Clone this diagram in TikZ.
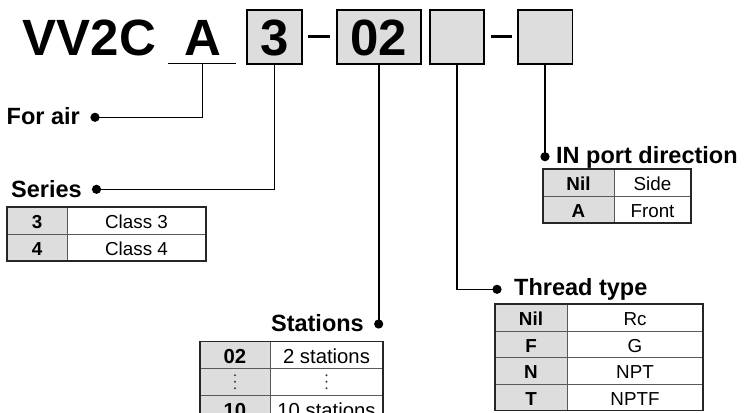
\documentclass[tikz,border=0pt]{standalone}
\usepackage{fontspec}
\setmainfont{Liberation Sans}
\definecolor{boxgray}{RGB}{221,221,221}
\newcommand\mytitlefont{\fontsize{51bp}{60bp}\selectfont\bfseries}
\newcommand\mylabelfont{\fontsize{23.5bp}{28bp}\selectfont\bfseries}
\newcommand\mytabfont{\fontsize{18.8bp}{22bp}\selectfont}
\newcommand\mytabfontb{\fontsize{18.8bp}{22bp}\selectfont\bfseries}
\newcommand\mystafont{\fontsize{20.3bp}{24bp}\selectfont}
\newcommand\mystafontb{\fontsize{20.3bp}{24bp}\selectfont\bfseries}
\begin{document}
\begin{tikzpicture}[x=1bp,y=-1bp,
  codebox/.style={draw=black,line width=1.6bp,fill=boxgray,inner sep=0pt,
    font=\mytitlefont,text height=36.5bp,text depth=0pt,minimum height=54bp},
  conn/.style={line width=1.6bp,black},
  lbl/.style={inner sep=0pt,font=\mylabelfont},
  tabouter/.style={line width=1.3bp,black!85},
  tabinner/.style={line width=1bp,black!65},
  tk/.style={inner sep=0pt,font=\mytabfontb,text height=13.4bp,text depth=0pt},
  tv/.style={inner sep=0pt,font=\mytabfont,text height=13.4bp,text depth=0pt},
  sk/.style={inner sep=0pt,font=\mystafontb,text height=14.5bp,text depth=0pt},
  sv/.style={inner sep=0pt,font=\mystafont,text height=14.5bp,text depth=0pt},
  dotmark/.style={black}
]
\useasboundingbox (0,0) rectangle (744,412);
\clip (0,0) rectangle (744,412);

% ---- title line ----
\node[inner sep=0pt,font=\mytitlefont,anchor=base west] (vv) at (22.5,55) {VV2C};
\node[inner sep=0pt,font=\mytitlefont,anchor=base] (tA) at (202.5,55) {A};
\coordinate (Aul) at (168,63.5);
\coordinate (Aur) at (236,63.5);
\coordinate (Amid) at (202.5,63.5);
\draw[conn] (Aul) -- (Aur);

\node[codebox,minimum width=55bp] (b3) at (274.5,37) {3};
\node[codebox,minimum width=84bp] (b02) at (378.7,37) {02};
\node[codebox,minimum width=54bp] (bc) at (457.2,37) {};
\node[codebox,minimum width=54.6bp] (bd) at (545,37) {};

\coordinate (d1a) at (308,36.5);
\coordinate (d1b) at (330,36.5);
\coordinate (d2a) at (491,36.5);
\coordinate (d2b) at (512,36.5);
\draw[line width=3.8bp] (d1a) -- (d1b);
\draw[line width=3.8bp] (d2a) -- (d2b);

% ---- connectors ----
\coordinate (airdot) at (95,117.3);
\coordinate (serdot) at (96.5,189.3);
\coordinate (stadot) at (378.7,324);
\coordinate (thrdot) at (497,289.3);
\coordinate (indot) at (545,156.7);

\draw[conn] (Amid) |- (airdot);
\draw[conn] (b3.south) |- (serdot);
\draw[conn] (b02.south) -- (stadot);
\draw[conn] (bc.south) |- (thrdot);
\draw[conn] (bd.south) -- (indot);
\foreach \d in {airdot,serdot,stadot,thrdot,indot} \fill[dotmark] (\d) circle[radius=4.6bp];

% ---- labels ----
\node[lbl,anchor=base east] (lair) at (80,124) {For air};
\node[lbl,anchor=base east] (lser) at (82,197) {Series};
\node[lbl,anchor=base east] (lsta) at (364,331.5) {Stations};
\node[lbl,anchor=base west] (lthr) at (514,295) {Thread type};
\node[lbl,anchor=base west] (lin) at (556,163) {IN port direction};

% ---- Series table ----
\fill[boxgray] (7,207) rectangle (67,261);
\draw[tabinner] (7,234) -- (206,234);
\draw[tabinner] (67,207) -- (67,261);
\draw[tabouter] (7,207) rectangle (206,261);
\node[tk] (s1k) at (37,222) {3};
\node[tv] (s1v) at (136.5,222) {Class 3};
\node[tk] (s2k) at (37,249) {4};
\node[tv] (s2v) at (136.5,249) {Class 4};

% ---- IN port table ----
\fill[boxgray] (543,169) rectangle (614,223);
\draw[tabinner] (543,196) -- (691,196);
\draw[tabinner] (614,169) -- (614,223);
\draw[tabouter] (543,169) rectangle (691,223);
\node[tk] (i1k) at (578.5,184) {Nil};
\node[tv] (i1v) at (652.5,184) {Side};
\node[tk] (i2k) at (578.5,211) {A};
\node[tv] (i2v) at (652.5,211) {Front};

% ---- Thread table ----
\fill[boxgray] (495,304) rectangle (567,410.5);
\foreach \yy in {331,357.5,384} \draw[tabinner] (495,\yy) -- (703,\yy);
\draw[tabinner] (567,304) -- (567,410.5);
\draw[tabouter] (495,304) rectangle (703,410.5);
\node[tk] (t1k) at (531,319) {Nil};
\node[tv] (t1v) at (635,319) {Rc};
\node[tk] (t2k) at (531,345.5) {F};
\node[tv] (t2v) at (635,345.5) {G};
\node[tk] (t3k) at (531,372) {N};
\node[tv] (t3v) at (635,372) {NPT};
\node[tk] (t4k) at (531,398.5) {T};
\node[tv] (t4v) at (635,398.5) {NPTF};

% ---- Stations table ----
\fill[boxgray] (200,341.7) rectangle (270,422);
\foreach \yy in {368.5,395} \draw[tabinner] (200,\yy) -- (383,\yy);
\draw[tabinner] (270,341.7) -- (270,422);
\draw[tabouter] (200,422) -- (200,341.7) -- (383,341.7) -- (383,422);
\node[sk] (n1k) at (235,356.5) {02};
\node[sv] (n1v) at (326.5,356.5) {2 stations};
\node[inner sep=0pt] (n2k) at (235,381.7) {};
\node[inner sep=0pt] (n2v) at (326.5,381.7) {};
\foreach \dx in {235,326.5} \foreach \dy in {-6.5,0,6.5}
  \fill[black!75] (\dx,381.7+\dy) circle[radius=1.1bp];
\node[sk] (n3k) at (235,410) {10};
\node[sv] (n3v) at (326.5,410) {10 stations};
\end{tikzpicture}
\end{document}
